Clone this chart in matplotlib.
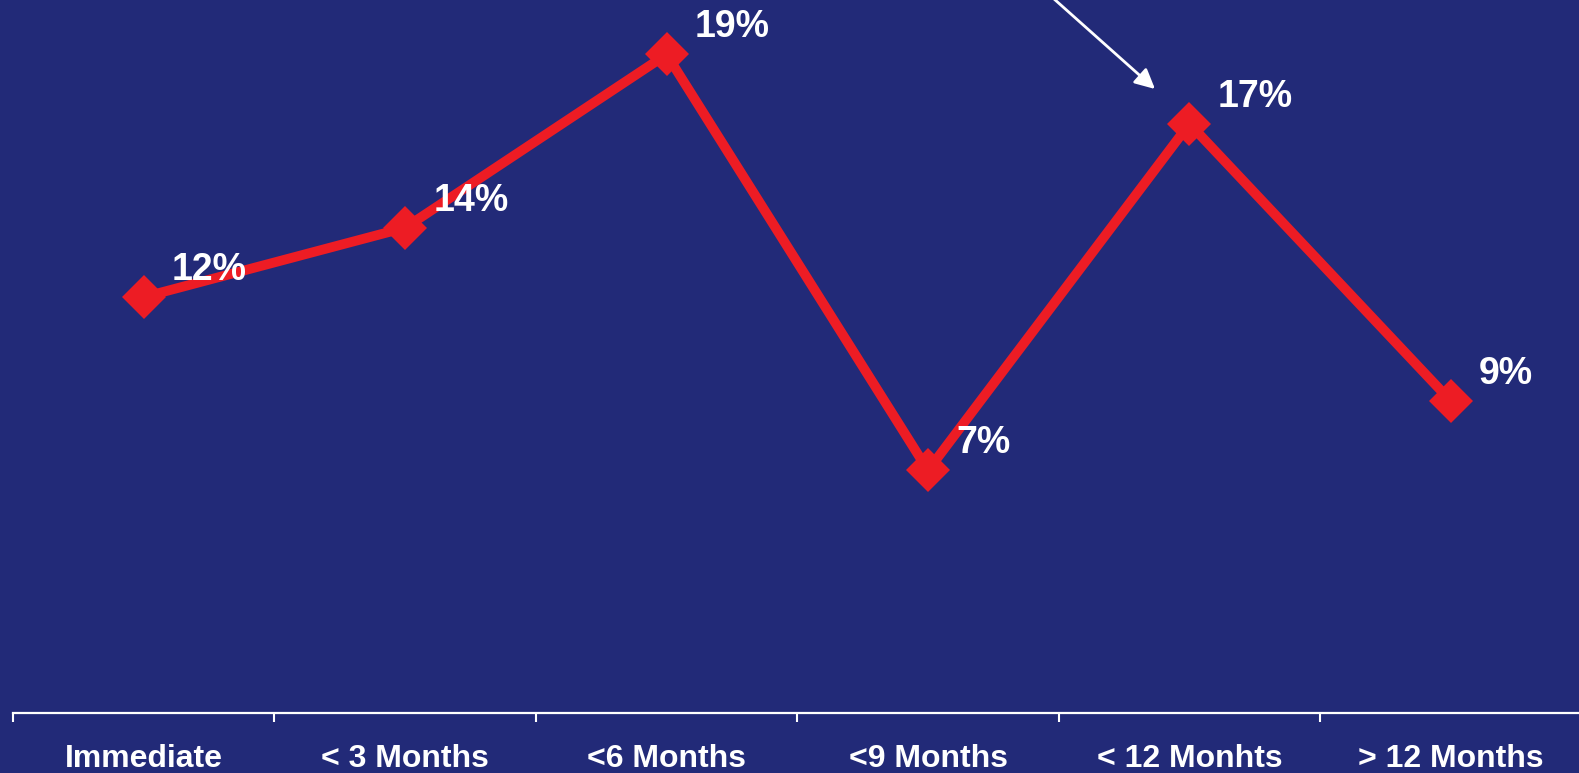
import matplotlib
matplotlib.use("Agg")
import matplotlib.pyplot as plt

# Time-to-outcome buckets and their share of responses (%)
categories = ["Immediate", "< 3 Months", "<6 Months", "<9 Months", "< 12 Monhts", "> 12 Months"]
shares = [12, 14, 19, 7, 17, 9]
value_labels = ["12%", "14%", "19%", "7%", "17%", "9%"]

BG = "#222A78"
RED = "#ED1C24"
W, H, DPI = 1579, 773, 100

plt.rcParams["font.family"] = ["Liberation Sans", "DejaVu Sans"]

fig = plt.figure(figsize=(W / DPI, H / DPI), dpi=DPI, facecolor=BG)
ax = fig.add_axes([13 / W, 0, 1 - 13 / W, 1], facecolor=BG)

x = list(range(len(categories)))
ax.plot(x, shares, color=RED, lw=7, marker="D", ms=22, mew=0,
        solid_joinstyle="miter", zorder=3)

for xi, yi, lab in zip(x, shares, value_labels):
    ax.annotate(lab, (xi, yi), xytext=(28, 27), textcoords="offset pixels",
                ha="left", va="center", color="white", fontsize=27,
                fontweight="bold", zorder=5)

ax.set_xlim(-0.5, 5.49)
ax.set_ylim(-1.73, 20.57)

for s in ("left", "right", "top"):
    ax.spines[s].set_visible(False)
ax.spines["bottom"].set_position(("data", 0))
ax.spines["bottom"].set_color("white")
ax.spines["bottom"].set_linewidth(1.6)

ax.set_yticks([])
ax.set_xticks(x)
ax.set_xticklabels(categories, color="white", fontsize=23, fontweight="bold")
ax.tick_params(axis="x", which="major", length=0, pad=22)
ax.set_xticks([i - 0.5 for i in x], minor=True)
ax.tick_params(axis="x", which="minor", length=6.5, width=1.5, color="white",
               direction="out")

# Pointer arrow entering from the top edge toward the "< 12 Months" peak
ax.annotate("", xy=(1155, H - 89), xycoords="figure pixels",
            xytext=(1044, H + 10), textcoords="figure pixels",
            arrowprops=dict(arrowstyle="-|>,head_length=0.6,head_width=0.3",
                            color="white", lw=2, mutation_scale=20,
                            shrinkA=0, shrinkB=0),
            annotation_clip=False)

fig.savefig("out.png", dpi=DPI, facecolor=BG)
